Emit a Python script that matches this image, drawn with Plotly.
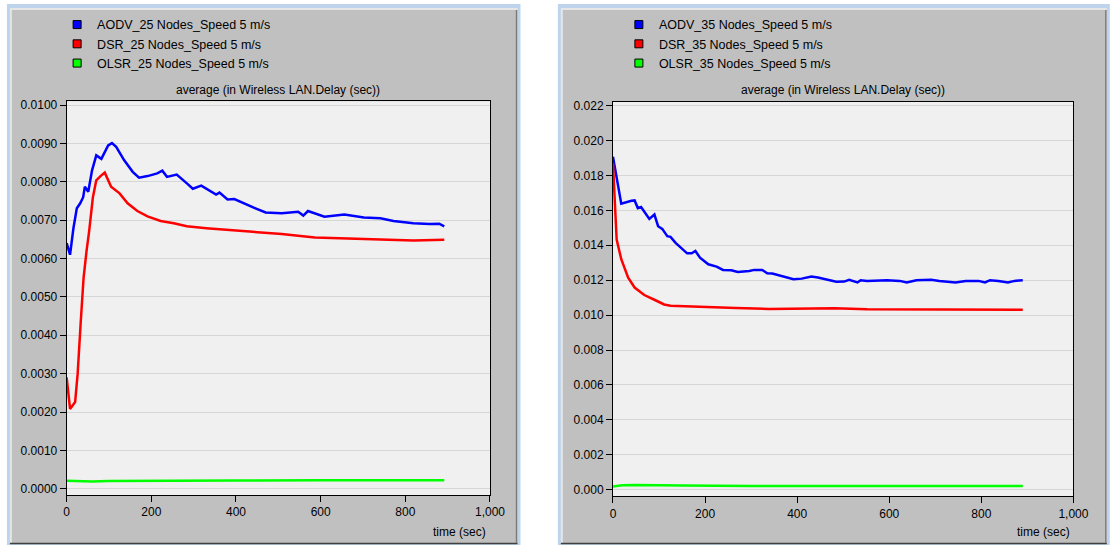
import plotly.graph_objects as go

W, H = 1113, 546

# ---------------- data (delay in seconds) ----------------
series_names_25 = ["AODV_25 Nodes_Speed 5 m/s", "DSR_25 Nodes_Speed 5 m/s", "OLSR_25 Nodes_Speed 5 m/s"]
series_names_35 = ["AODV_35 Nodes_Speed 5 m/s", "DSR_35 Nodes_Speed 5 m/s", "OLSR_35 Nodes_Speed 5 m/s"]
series_colors = ["#0000ff", "#ff0000", "#00ff00"]

aodv25_t = [0, 8, 16, 24, 32, 39, 43, 51, 60, 70, 82, 98, 107, 117, 136, 156, 171, 191, 214, 226, 237,
            260, 284, 298, 318, 353, 361, 380, 396, 423, 446, 470, 508, 547, 559, 570, 609, 656, 702,
            741, 772, 819, 857, 880, 892]
aodv25_v = [0.00640, 0.00610, 0.00679, 0.00731, 0.00744, 0.00760, 0.00787, 0.00774, 0.00830, 0.00869,
            0.00860, 0.00895, 0.00901, 0.00891, 0.00856, 0.00826, 0.00811, 0.00815, 0.00822, 0.00829,
            0.00813, 0.00819, 0.00796, 0.00782, 0.00790, 0.00767, 0.00772, 0.00754, 0.00755, 0.00741,
            0.00731, 0.00720, 0.00718, 0.00722, 0.00712, 0.00724, 0.00709, 0.00715, 0.00707, 0.00705,
            0.00698, 0.00692, 0.00690, 0.00691, 0.00684]

dsr25_t = [0, 8, 20, 26, 33, 40, 47, 53, 62, 70, 80, 90, 105, 125, 144, 167, 191, 222, 253, 284, 330,
           377, 423, 454, 508, 586, 663, 741, 819, 892]
dsr25_v = [0.00290, 0.00208, 0.00226, 0.00300, 0.00430, 0.00550, 0.00620, 0.00670, 0.00760, 0.00804,
           0.00815, 0.00824, 0.00787, 0.00770, 0.00744, 0.00724, 0.00710, 0.00698, 0.00692, 0.00684,
           0.00679, 0.00675, 0.00671, 0.00669, 0.00664, 0.00655, 0.00652, 0.00649, 0.00647, 0.00649]

olsr25_t = [0, 30, 60, 100, 200, 400, 600, 892]
olsr25_v = [0.000210, 0.000200, 0.000190, 0.000200, 0.000210, 0.000212, 0.000218, 0.000218]

aodv35_t = [0, 18, 40, 47, 54, 61, 79, 90, 98, 107, 118, 125, 136, 161, 171, 179, 189, 207, 225, 239,
            257, 271, 296, 307, 324, 335, 346, 367, 392, 410, 431, 445, 460, 485, 502, 513, 531, 538,
            552, 595, 623, 638, 659, 691, 709, 744, 766, 794, 808, 819, 837, 858, 872, 890]
aodv35_v = [0.01907, 0.01638, 0.01655, 0.01657, 0.01613, 0.01619, 0.01551, 0.01576, 0.01509, 0.01494,
            0.01452, 0.01448, 0.01414, 0.01354, 0.01354, 0.01367, 0.01329, 0.01291, 0.01278, 0.01259,
            0.01257, 0.01247, 0.01253, 0.01259, 0.01259, 0.01240, 0.01238, 0.01225, 0.01206, 0.01209,
            0.01221, 0.01215, 0.01206, 0.01191, 0.01192, 0.01202, 0.01187, 0.01200, 0.01196, 0.01200,
            0.01196, 0.01187, 0.01200, 0.01202, 0.01196, 0.01187, 0.01196, 0.01196, 0.01187, 0.01200,
            0.01196, 0.01187, 0.01196, 0.01200]

dsr35_t = [0, 8, 18, 33, 47, 68, 90, 111, 125, 161, 196, 267, 339, 410, 481, 552, 623, 694, 766, 837, 890]
dsr35_v = [0.01869, 0.01433, 0.01320, 0.01215, 0.01158, 0.01115, 0.01088, 0.01061, 0.01054, 0.01050,
           0.01050, 0.01041, 0.01035, 0.01039, 0.01039, 0.01033, 0.01033, 0.01035, 0.01033, 0.01033,
           0.01031]

olsr35_t = [0, 20, 50, 90, 150, 300, 600, 890]
olsr35_v = [0.000180, 0.000250, 0.000270, 0.000270, 0.000240, 0.000220, 0.000220, 0.000220]

x_tickvals = [0, 200, 400, 600, 800, 1000]
chart_title = "average (in Wireless LAN.Delay (sec))"
x_label = "time (sec)"


def px(x):
    return x / W


def py(y):
    return 1 - y / H


fig = go.Figure()

left_series = [(aodv25_t, aodv25_v), (dsr25_t, dsr25_v), (olsr25_t, olsr25_v)]
right_series = [(aodv35_t, aodv35_v), (dsr35_t, dsr35_v), (olsr35_t, olsr35_v)]

for (t, v), name, col in zip(left_series, series_names_25, series_colors):
    fig.add_trace(go.Scatter(x=t, y=v, mode="lines", line=dict(color=col, width=2.5),
                             xaxis="x", yaxis="y", showlegend=False, name=name))
for (t, v), name, col in zip(right_series, series_names_35, series_colors):
    fig.add_trace(go.Scatter(x=t, y=v, mode="lines", line=dict(color=col, width=2.5),
                             xaxis="x2", yaxis="y2", showlegend=False, name=name))

# legend entries with square swatches
for name, col in zip(series_names_25, series_colors):
    fig.add_trace(go.Scatter(x=[None], y=[None], mode="markers", name=name, xaxis="x", yaxis="y",
                             marker=dict(symbol="square", size=8, color=col, line=dict(color="#000", width=1)),
                             legend="legend"))
for name, col in zip(series_names_35, series_colors):
    fig.add_trace(go.Scatter(x=[None], y=[None], mode="markers", name=name, xaxis="x2", yaxis="y2",
                             marker=dict(symbol="square", size=8, color=col, line=dict(color="#000", width=1)),
                             legend="legend2"))

font = dict(family="Liberation Sans, Arial, sans-serif", size=12, color="#000")
legend_font = dict(family="Liberation Sans, Arial, sans-serif", size=12.5, color="#000")

common_x = dict(range=[0, 1000], tickvals=x_tickvals, tickformat=",d", showgrid=False, zeroline=False,
                showline=True, linecolor="#000", linewidth=1, mirror=True, ticks="outside", ticklen=6,
                tickcolor="#000", tickfont=font, fixedrange=True)
common_y = dict(showgrid=True, gridcolor="#d6d6d6", gridwidth=1, zeroline=False, showline=True,
                linecolor="#000", linewidth=1, mirror=True, ticks="outside", ticklen=6, tickcolor="#000",
                tickfont=font, tick0=0, fixedrange=True)

shapes = []
# panel frames
for (x0, x1) in [(4, 526), (564, 1125)]:
    shapes.append(dict(type="rect", xref="paper", yref="paper", x0=px(x0), x1=px(x1), y0=py(546), y1=py(1),
                       fillcolor="#bdd4ec", line=dict(width=0), layer="below"))
    shapes.append(dict(type="rect", xref="paper", yref="paper", x0=px(x0 + 3), x1=px(x1 - 3), y0=py(545),
                       y1=py(5), fillcolor="#e6e6e6", line=dict(width=0), layer="below"))
    shapes.append(dict(type="rect", xref="paper", yref="paper", x0=px(x0 + 5), x1=px(x1 - 4), y0=py(544),
                       y1=py(7), fillcolor="#c0c0c0", line=dict(width=0), layer="below"))
    shapes.append(dict(type="line", xref="paper", yref="paper", x0=px(x0 + 3), x1=px(x1 - 3), y0=py(544.5),
                       y1=py(544.5), line=dict(color="#404040", width=1.5), layer="below"))
    shapes.append(dict(type="line", xref="paper", yref="paper", x0=px(x1 - 4), x1=px(x1 - 4), y0=py(544),
                       y1=py(7), line=dict(color="#7a7a7a", width=1.5), layer="below"))
# plot-area backgrounds (over the panel fill, under grid and traces)
for xa, ya in [("x", "y"), ("x2", "y2")]:
    shapes.append(dict(type="rect", xref=f"{xa} domain", yref=f"{ya} domain", x0=0, x1=1, y0=0, y1=1,
                       fillcolor="#f0f0f0", line=dict(width=0), layer="below"))

annotations = []
for xc, xr in [(280, 493), (854, 1087)]:
    annotations.append(dict(text=chart_title, xref="paper", yref="paper", x=px(xc), y=py(88),
                            xanchor="center", yanchor="middle", showarrow=False, font=font))
    annotations.append(dict(text=x_label, xref="paper", yref="paper", x=px(xr), y=py(533),
                            xanchor="right", yanchor="middle", showarrow=False, font=font))

legend_common = dict(font=legend_font, bgcolor="rgba(0,0,0,0)", borderwidth=0, xanchor="left",
                     yanchor="top", tracegroupgap=0, itemclick=False, itemdoubleclick=False)

fig.update_layout(
    width=W, height=H, margin=dict(l=0, r=0, t=0, b=0, pad=0),
    paper_bgcolor="#ffffff", plot_bgcolor="#f0f0f0",
    font=font,
    xaxis=dict(domain=[px(64.7), px(495)], anchor="y", **common_x),
    yaxis=dict(domain=[py(495.7), py(99)], anchor="x", range=[-0.000165, 0.0101], dtick=0.001,
               tickformat=".4f", **common_y),
    xaxis2=dict(domain=[px(620), px(1088)], anchor="y2", **common_x),
    yaxis2=dict(domain=[py(497), py(99.3)], anchor="x2", range=[-0.00038, 0.02223], dtick=0.002,
                tickformat=".3f", **common_y),
    legend=dict(x=px(55), y=py(7), **legend_common),
    legend2=dict(x=px(626), y=py(7), **legend_common),
    shapes=shapes,
    annotations=annotations,
)

fig.write_html("out.html")
